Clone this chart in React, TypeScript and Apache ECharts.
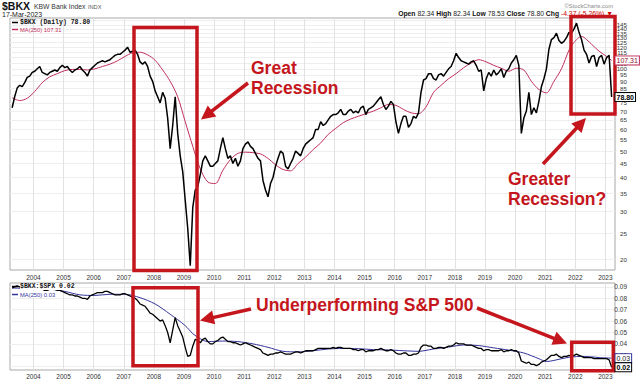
import React, { useEffect, useRef } from "react";
import * as echarts from "echarts";

const FONT = '"Liberation Sans", Arial, sans-serif';
const MONO = '"Liberation Mono", "DejaVu Sans Mono", monospace';
const RED = "#c4161c";
const MA_RED = "#c0305a";
const MA_BLUE = "#34349c";

// ---------- data ----------
const FIRST_MONTH = "2003-04";
// $BKX approximate month-by-month closes, Apr 2003 .. Mar 2023
const bkxMonthly = [
  72, 79, 85, 87, 86, 89, 93, 94, 97,
  98, 100, 102, 97, 96, 95, 97, 98, 99, 98, 101, 103,
  101, 102, 99, 97, 99, 100, 102, 99, 97, 94, 99, 101,
  103, 105, 106, 107, 106, 107, 108, 110, 112, 113, 113, 115,
  117, 120, 115, 116, 117, 113, 106, 104, 106, 102, 94, 90,
  83, 79, 75, 82, 78, 66, 51, 62, 79, 58, 48, 42,
  33, 26, 19, 31, 36, 37, 41, 46, 48, 46, 44, 44,
  45, 46, 51, 56, 51, 47, 48, 45, 47, 44, 46, 51,
  53, 54, 52, 51, 49, 47, 46, 39, 36, 34, 38, 40,
  44, 47, 50, 49, 44, 43, 45, 47, 50, 49, 48, 51,
  53, 54, 55, 56, 60, 60, 64, 62, 63, 65, 67, 68,
  68, 69, 71, 68, 68, 70, 71, 69, 70, 69, 72, 73,
  68, 71, 72, 73, 75, 77, 79, 74, 71, 73, 76, 74,
  64, 58, 63, 67, 67, 61, 63, 67, 66, 69, 82, 91,
  92, 96, 96, 92, 91, 95, 96, 94, 97, 100, 102, 107,
  114, 110, 107, 106, 105, 104, 106, 107, 103, 98, 99, 83,
  92, 97, 94, 99, 95, 97, 100, 93, 98, 100, 105, 108,
  112, 103, 58, 66, 70, 82, 68, 72, 69, 76, 86, 92,
  100, 118, 128, 130, 135, 127, 124, 126, 130, 136, 135, 140,
  147, 136, 128, 117, 113, 105, 111, 112, 102, 110, 112, 104,
  110, 112, 78.8,
];

const bkxMaMonths = [
  "2003-04", "2003-07", "2003-10", "2004-01", "2004-04", "2004-07", "2004-10",
  "2005-01", "2005-04", "2005-07", "2005-10", "2006-01", "2006-04", "2006-07", "2006-10",
  "2007-01", "2007-04", "2007-07", "2007-10", "2008-01", "2008-04", "2008-07", "2008-10",
  "2009-01", "2009-04", "2009-07", "2009-10", "2010-01", "2010-04", "2010-07", "2010-10",
  "2011-01", "2011-04", "2011-07", "2011-10", "2012-01", "2012-04", "2012-07", "2012-10",
  "2013-01", "2013-04", "2013-07", "2013-10", "2014-01", "2014-04", "2014-07", "2014-10",
  "2015-01", "2015-04", "2015-07", "2015-10", "2016-01", "2016-04", "2016-07", "2016-10",
  "2017-01", "2017-04", "2017-07", "2017-10", "2018-01", "2018-04", "2018-07", "2018-10",
  "2019-01", "2019-04", "2019-07", "2019-10", "2020-01", "2020-04", "2020-07", "2020-10",
  "2021-01", "2021-04", "2021-07", "2021-10", "2021-12", "2022-03", "2022-05", "2022-07",
  "2022-10", "2023-01", "2023-03",
];
const bkxMaValues = [
  78.4, 76.5, 78, 82.6, 89, 93.5, 96,
  98.5, 99.5, 99.5, 99, 100, 102, 104, 107,
  111, 114.5, 115, 112.5, 107.5, 99, 90, 79,
  64, 52, 43, 38.5, 38, 42.5, 46.5, 49,
  49.5, 49.3, 48.8, 47, 44.5, 42.8, 42.3, 45,
  47.5, 50.6, 53.5, 57.5, 60.5, 63.5, 65.5, 67,
  68.5, 70, 72, 74, 73.5, 71, 69, 68.5,
  72.5, 82, 87, 92, 96, 101, 105, 108,
  106, 103, 100.5, 98, 100.5, 99, 90, 84,
  81.6, 90, 100, 117, 125, 131.5, 128, 123,
  116, 111, 107.31,
];

// $BKX:$SPX ratio, Apr 2003 .. Mar 2023
const ratioMonthly = [
  0.089, 0.090, 0.091, 0.090, 0.090, 0.091, 0.090, 0.090, 0.089,
  0.088, 0.089, 0.090, 0.088, 0.087, 0.087, 0.088, 0.089, 0.088, 0.087, 0.087, 0.086,
  0.085, 0.084, 0.083, 0.083, 0.082, 0.082, 0.081, 0.080, 0.080, 0.079, 0.082, 0.083,
  0.084, 0.085, 0.085, 0.085, 0.086, 0.086, 0.085, 0.084, 0.083, 0.083, 0.083, 0.084,
  0.084, 0.083, 0.082, 0.081, 0.080, 0.078, 0.075, 0.074, 0.073, 0.070, 0.067, 0.066,
  0.064, 0.062, 0.060, 0.061, 0.056, 0.050, 0.041, 0.052, 0.063, 0.056, 0.051, 0.046,
  0.037, 0.029, 0.030, 0.038, 0.044, 0.043, 0.041, 0.044, 0.045, 0.042, 0.040, 0.040,
  0.042, 0.043, 0.045, 0.046, 0.044, 0.042, 0.042, 0.041, 0.041, 0.040, 0.039, 0.040,
  0.041, 0.040, 0.039, 0.038, 0.037, 0.036, 0.035, 0.032, 0.031, 0.030, 0.031, 0.031,
  0.032, 0.032, 0.033, 0.032, 0.031, 0.031, 0.031, 0.032, 0.033, 0.033, 0.032, 0.033,
  0.034, 0.034, 0.034, 0.034, 0.035, 0.036, 0.036, 0.036, 0.036, 0.036, 0.036, 0.037,
  0.036, 0.037, 0.037, 0.036, 0.036, 0.036, 0.036, 0.035, 0.035, 0.034, 0.035, 0.035,
  0.033, 0.034, 0.034, 0.034, 0.035, 0.035, 0.036, 0.035, 0.034, 0.034, 0.035, 0.034,
  0.032, 0.031, 0.031, 0.032, 0.032, 0.030, 0.030, 0.031, 0.031, 0.032, 0.037, 0.039,
  0.039, 0.038, 0.038, 0.036, 0.036, 0.037, 0.037, 0.036, 0.037, 0.038, 0.038, 0.039,
  0.041, 0.040, 0.040, 0.040, 0.039, 0.039, 0.039, 0.038, 0.037, 0.036, 0.036, 0.034,
  0.035, 0.035, 0.034, 0.034, 0.034, 0.034, 0.035, 0.033, 0.034, 0.034, 0.035, 0.034,
  0.034, 0.032, 0.025, 0.024, 0.023, 0.024, 0.022, 0.022, 0.021, 0.022, 0.024, 0.025,
  0.026, 0.028, 0.030, 0.030, 0.031, 0.029, 0.028, 0.029, 0.029, 0.030, 0.029, 0.030,
  0.031, 0.030, 0.029, 0.028, 0.028, 0.028, 0.028, 0.027, 0.027, 0.027, 0.027, 0.027,
  0.027, 0.026, 0.0195,
];

const ratioMaMonths = [
  "2003-04", "2004-01", "2004-07", "2005-01", "2005-07", "2006-01", "2006-07", "2007-01",
  "2007-07", "2008-01", "2008-07", "2009-01", "2009-04", "2009-07", "2009-10", "2010-04",
  "2010-10", "2011-04", "2011-10", "2012-04", "2012-10", "2013-04", "2013-10", "2014-04",
  "2014-10", "2015-04", "2015-10", "2016-04", "2016-10", "2017-04", "2017-10", "2018-04",
  "2018-10", "2019-04", "2019-10", "2020-04", "2020-10", "2021-01", "2021-04", "2021-10",
  "2022-04", "2022-10", "2023-03",
];
const ratioMaValues = [
  0.089, 0.0885, 0.088, 0.086, 0.083, 0.0825, 0.0835, 0.0835,
  0.0805, 0.075, 0.066, 0.056, 0.049, 0.0445, 0.042, 0.0425,
  0.042, 0.040, 0.037, 0.0335, 0.033, 0.034, 0.0355, 0.036,
  0.0358, 0.035, 0.0347, 0.034, 0.0335, 0.0355, 0.0372, 0.039,
  0.0385, 0.0365, 0.0345, 0.032, 0.027, 0.0245, 0.0255, 0.0283,
  0.029, 0.028, 0.0275,
];

const yearLabels = [2004, 2005, 2006, 2007, 2008, 2009, 2010, 2011, 2012, 2013, 2014, 2015, 2016, 2017, 2018, 2019, 2020, 2021, 2022, 2023];
const priceTicks = [20, 25, 30, 35, 40, 45, 50, 55, 60, 65, 70, 75, 80, 85, 90, 95, 100, 105, 110, 115, 120, 125, 130, 135, 140, 145, 150];
const ratioTicks = [0.02, 0.03, 0.04, 0.05, 0.06, 0.07, 0.08, 0.09];

const quote = { open: "82.34", high: "82.34", low: "78.53", close: "78.80", chg: "-4.37 (-5.26%)" };

// ---------- helpers ----------
function monthToYear(m: string) {
  const [y, mo] = m.split("-").map(Number);
  return y + (mo - 1 + 0.5) / 12;
}
function monthlySeries(first: string, vals: number[]) {
  const [y, mo] = first.split("-").map(Number);
  return vals.map((v, i) => [y + (mo - 1 + i + 0.5) / 12, v]);
}
function pairs(months: string[], vals: number[]) {
  return months.map((m, i) => [monthToYear(m), vals[i]]);
}

const X_MIN = 2003.22;
const X_MAX = 2023.32;

function txt(x: number, y: number, text: string, o: any = {}) {
  return {
    type: "text",
    z: o.z ?? 100,
    x,
    y,
    style: {
      text,
      fill: o.fill ?? "#222",
      fontSize: o.fontSize ?? 7,
      fontWeight: o.fontWeight ?? "normal",
      fontFamily: o.fontFamily ?? FONT,
      align: o.align ?? "left",
      verticalAlign: "middle",
      ...(o.extra || {}),
    },
  };
}

function arrow(x1: number, y1: number, x2: number, y2: number) {
  const dx = x2 - x1, dy = y2 - y1;
  const L = Math.hypot(dx, dy);
  const ux = dx / L, uy = dy / L;
  const hl = 14, hw = 7;
  const bx = x2 - ux * hl, by = y2 - uy * hl;
  return [
    { type: "line", z: 100, shape: { x1, y1, x2: bx + ux * 2, y2: by + uy * 2 }, style: { stroke: RED, lineWidth: 3.5 } },
    {
      type: "polygon",
      z: 100,
      shape: { points: [[x2, y2], [bx - uy * hw, by + ux * hw], [bx + uy * hw, by - ux * hw]] },
      style: { fill: RED },
    },
  ];
}

function box(x: number, y: number, w: number, h: number) {
  return { type: "rect", z: 100, shape: { x, y, width: w, height: h }, style: { fill: "none", stroke: RED, lineWidth: 3.5 } };
}

function legendLine(y: number, color: string) {
  return { type: "line", z: 100, shape: { x1: 12, y1: y, x2: 18, y2: y }, style: { stroke: color, lineWidth: 1.5 } };
}

function tag(x: number, y: number, text: string, border: string, color: string, bold: boolean) {
  return {
    type: "text",
    z: 110,
    x,
    y,
    style: {
      text,
      fill: color,
      fontSize: 7,
      fontWeight: bold ? "bold" : "normal",
      fontFamily: FONT,
      align: "left",
      verticalAlign: "middle",
      backgroundColor: "#fff",
      borderColor: border,
      borderWidth: 1,
      padding: [1, 1, 0, 1],
    },
  };
}

function buildOption() {
  const axisLabelBase = { fontSize: 6.5, color: "#333", fontFamily: FONT };
  const xAxes = [0, 1].map((i) => ({
    type: "value",
    gridIndex: i,
    min: X_MIN,
    max: X_MAX,
    axisLine: { show: false },
    axisTick: { show: false, customValues: yearLabels },
    axisLabel: { ...axisLabelBase, customValues: yearLabels, margin: i === 0 ? 4 : 3, formatter: (v: number) => String(v) },
    splitLine: { show: true, lineStyle: { color: "#e2e2e2", width: 1 } },
  }));
  return {
    animation: false,
    backgroundColor: "#fff",
    grid: [
      { left: 10, right: 25, top: 18, height: 252, show: true, borderColor: "#a8a8a8", borderWidth: 1 },
      { left: 10, right: 25, top: 283, height: 87, show: true, borderColor: "#a8a8a8", borderWidth: 1 },
    ],
    xAxis: xAxes,
    yAxis: [
      {
        type: "log",
        gridIndex: 0,
        position: "right",
        min: 18.33,
        max: 153.5,
        axisLine: { show: false },
        axisTick: { show: false, customValues: priceTicks },
        axisLabel: { ...axisLabelBase, fontSize: 6.2, customValues: priceTicks, align: "right", margin: 12, formatter: (v: number) => String(v) },
        splitLine: { show: true, lineStyle: { color: "#eeeeee", width: 1 } },
      },
      {
        type: "value",
        gridIndex: 1,
        position: "right",
        min: 0.0171,
        max: 0.0934,
        axisLine: { show: false },
        axisTick: { show: false, customValues: ratioTicks },
        axisLabel: { ...axisLabelBase, customValues: ratioTicks, align: "right", margin: 12, formatter: (v: number) => v.toFixed(2) },
        splitLine: { show: true, lineStyle: { color: "#eeeeee", width: 1 } },
      },
    ],
    series: [
      {
        type: "line", xAxisIndex: 0, yAxisIndex: 0, data: pairs(bkxMaMonths, bkxMaValues),
        showSymbol: false, smooth: 0.3, lineStyle: { color: MA_RED, width: 1 }, z: 2,
      },
      {
        type: "line", xAxisIndex: 0, yAxisIndex: 0, data: monthlySeries(FIRST_MONTH, bkxMonthly),
        showSymbol: false, lineStyle: { color: "#000", width: 1.5 }, z: 3,
      },
      {
        type: "line", xAxisIndex: 1, yAxisIndex: 1, data: pairs(ratioMaMonths, ratioMaValues),
        showSymbol: false, smooth: 0.3, lineStyle: { color: MA_BLUE, width: 1 }, z: 2,
      },
      {
        type: "line", xAxisIndex: 1, yAxisIndex: 1, data: monthlySeries(FIRST_MONTH, ratioMonthly),
        showSymbol: false, lineStyle: { color: "#000", width: 1.3 }, z: 3,
      },
    ],
  };
}

function annotations() {
  const lastBkx = bkxMonthly[bkxMonthly.length - 1];
  const lastMa = bkxMaValues[bkxMaValues.length - 1];
  const lastRatio = ratioMonthly[ratioMonthly.length - 1];
  const lastRatioMa = ratioMaValues[ratioMaValues.length - 1];
  const big = { fill: RED, fontSize: 17.5, fontWeight: "bold" };
  return [
    // header
    txt(2, 6.2, "$BKX", { fontSize: 10.5, fontWeight: "bold", fill: "#111" }),
    txt(34, 6.5, "KBW Bank Index", { fontSize: 6.8, fill: "#333" }),
    txt(88, 6.5, "INDX", { fontSize: 5.6, fill: "#555" }),
    txt(2, 14.3, "17-Mar-2023", { fontSize: 7, fill: "#222" }),
    txt(613, 5.5, "\u00a9StockCharts.com", { fontSize: 5.8, fill: "#888", align: "right" }),
    {
      type: "text", z: 100, x: 613, y: 13.8,
      style: {
        text: `{b|Open} ${quote.open} {b|High} ${quote.high} {b|Low} ${quote.low} {b|Close} ${quote.close} {b|Chg} {r|${quote.chg} \u25bc}`,
        fill: "#222", fontSize: 6.8, fontFamily: FONT, align: "right", verticalAlign: "middle",
        rich: {
          b: { fontWeight: "bold", fontSize: 6.8, fontFamily: FONT, fill: "#111" },
          r: { fontSize: 6.8, fontFamily: FONT, fill: "#c00" },
        },
      },
    },
    // legends
    legendLine(22.5, "#000"),
    txt(20, 22.5, `$BKX (Daily) ${lastBkx.toFixed(2)}`, { fontFamily: MONO, fontSize: 6.5, fontWeight: "bold", fill: "#111" }),
    legendLine(29.5, MA_RED),
    txt(20, 29.5, `MA(250) ${lastMa.toFixed(2)}`, { fontSize: 5.8, fill: MA_RED }),
    legendLine(286.5, "#000"),
    txt(20, 286.5, `$BKX:$SPX ${lastRatio.toFixed(2)}`, { fontFamily: MONO, fontSize: 6.5, fontWeight: "bold", fill: "#111", extra: { backgroundColor: "#fff" } }),
    legendLine(294.5, MA_BLUE),
    txt(20, 294.5, `MA(250) ${lastRatioMa.toFixed(2)}`, { fontSize: 5.8, fill: MA_BLUE, extra: { backgroundColor: "#fff" } }),
    // boxes
    box(134, 27.5, 63, 243),
    box(571, 16.5, 44, 97.5),
    box(133, 287.7, 65, 78),
    box(571.7, 342.3, 41.6, 28.5),
    // arrows
    ...arrow(248, 83, 201, 119.5),
    ...arrow(543, 164, 586, 118),
    ...arrow(251, 309, 200, 320.5),
    ...arrow(477, 308, 567, 343.5),
    // callout texts
    txt(251, 67.5, "Great", big),
    txt(251, 88, "Recession", big),
    txt(508, 178.5, "Greater", big),
    txt(508, 198.5, "Recession?", big),
    txt(256, 305, "Underperforming S&P 500", big),
  ];
}

export default function App() {
  const ref = useRef<HTMLDivElement>(null);
  useEffect(() => {
    if (!ref.current) return;
    const chart = echarts.init(ref.current, null, { renderer: "svg" });
    chart.setOption(buildOption() as any);
    const lastBkx = bkxMonthly[bkxMonthly.length - 1];
    const lastMa = bkxMaValues[bkxMaValues.length - 1];
    const lastRatio = ratioMonthly[ratioMonthly.length - 1];
    const lastRatioMa = ratioMaValues[ratioMaValues.length - 1];
    const yMa = chart.convertToPixel({ yAxisIndex: 0 } as any, lastMa) as number;
    const yBkx = chart.convertToPixel({ yAxisIndex: 0 } as any, lastBkx) as number;
    const yRMa = chart.convertToPixel({ yAxisIndex: 1 } as any, lastRatioMa) as number;
    const yR = chart.convertToPixel({ yAxisIndex: 1 } as any, lastRatio) as number;
    const tags = [
      tag(615.5, yMa, lastMa.toFixed(2), MA_RED, "#8a1030", false),
      tag(615.5, yBkx, lastBkx.toFixed(2), "#000", "#000", true),
      tag(615.5, yRMa, lastRatioMa.toFixed(2), MA_BLUE, "#222", false),
      tag(615.5, yR, lastRatio.toFixed(2), "#000", "#000", true),
    ];
    chart.setOption({ graphic: { elements: [...annotations(), ...tags] } } as any);
    return () => chart.dispose();
  }, []);
  return (
    <div
      ref={ref}
      style={{ position: "fixed", left: 0, top: 0, width: 640, height: 382, background: "#fff" }}
    />
  );
}
